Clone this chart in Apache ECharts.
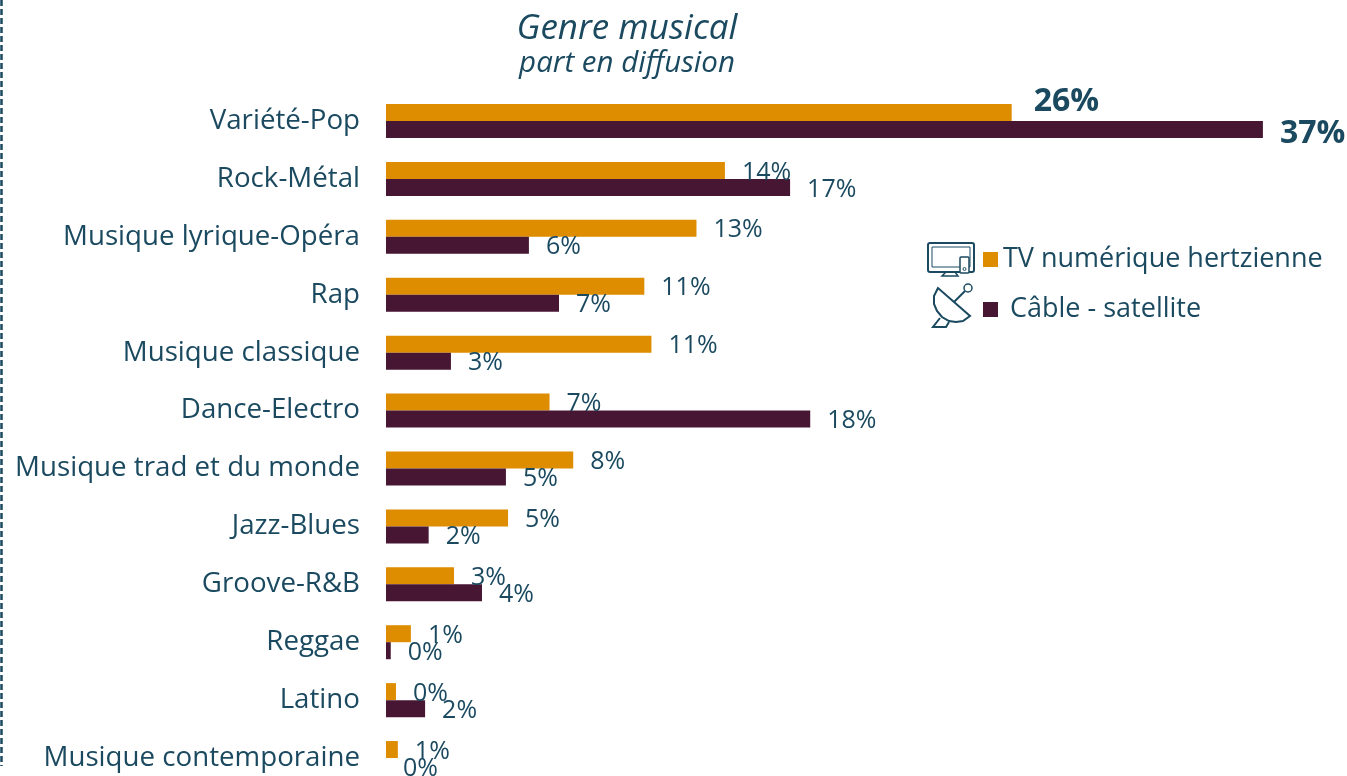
<!DOCTYPE html>
<html><head><meta charset="utf-8">
<style>html,body{margin:0;padding:0;background:#fff;overflow:hidden}#c{width:1347px;height:776px}</style>
<script src="https://cdn.jsdelivr.net/npm/echarts@6/dist/echarts.min.js"></script>
</head><body><div id="c"></div>
<script>
const categories = ['Variété-Pop','Rock-Métal','Musique lyrique-Opéra','Rap','Musique classique','Dance-Electro','Musique trad et du monde','Jazz-Blues','Groove-R&B','Reggae','Latino','Musique contemporaine'];
const tvValues = [26.4,14.3,13.1,10.9,11.2,6.9,7.9,5.15,2.87,1.05,0.42,0.5];
const cableValues = [37,17.05,6.03,7.3,2.74,17.9,5.06,1.8,4.05,0.2,1.65,0];
const tvLabels = ['26%','14%','13%','11%','11%','7%','8%','5%','3%','1%','0%','1%'];
const cableLabels = ['37%','17%','6%','7%','3%','18%','5%','2%','4%','0%','2%','0%'];
const tvName = 'TV numérique hertzienne';
const cableName = ' Câble - satellite';
const titleText = 'Genre musical';
const subtitleText = 'part en diffusion';

const FONT = 'Open Sans';
const INK = '#1B4A60';
const ORANGE = '#DE8C00';
const PLUM = '#471632';

function items(values, labels, boldOffset) {
  return values.map((v, i) => i === 0 ? {
    value: v,
    label: {formatter: labels[i], fontWeight: 'bold', fontSize: 32, offset: boldOffset}
  } : {value: v, label: {formatter: labels[i]}});
}
function barSeries(name, color, values, labels, boldOffset) {
  return {
    name, type: 'bar', barWidth: 17, barGap: 0, itemStyle: {color},
    label: {show: true, position: 'right', distance: 17, offset: [0, 2], color: INK, fontFamily: FONT, fontSize: 25},
    data: items(values, labels, boldOffset)
  };
}
const stroke = {stroke: INK, lineWidth: 2, fill: 'none'};
const chart = echarts.init(document.getElementById('c'), null, {renderer: 'canvas'});
chart.setOption({
  animation: false,
  backgroundColor: '#fff',
  title: {
    text: titleText, subtext: subtitleText, left: 627, top: 12, textAlign: 'center', itemGap: 2, padding: 0,
    textStyle: {fontFamily: FONT, fontStyle: 'italic', fontWeight: 'normal', fontSize: 35, color: INK},
    subtextStyle: {fontFamily: FONT, fontStyle: 'italic', fontSize: 29.5, color: INK}
  },
  legend: {
    orient: 'vertical', left: 983, top: 246, itemWidth: 15, itemHeight: 15, itemGap: 23, icon: 'rect', padding: 0,
    textStyle: {fontFamily: FONT, fontSize: 27, color: INK, padding: [4, 0, 0, 0]},
    data: [tvName, cableName]
  },
  grid: {left: 386, top: 92, width: 948, height: 695, outerBoundsMode: 'none'},
  xAxis: {type: 'value', min: 0, max: 40, show: false},
  yAxis: {
    type: 'category', inverse: true, data: categories,
    axisLine: {show: false}, axisTick: {show: false},
    axisLabel: {margin: 26, color: INK, fontFamily: FONT, fontSize: 27.7, padding: [3, 0, 0, 0]}
  },
  series: [
    barSeries(tvName, ORANGE, tvValues, tvLabels, [5, -11]),
    barSeries(cableName, PLUM, cableValues, cableLabels, [0, 4])
  ],
  graphic: [
    {type: 'line', shape: {x1: 1.5, y1: 0, x2: 1.5, y2: 766}, style: {stroke: INK, lineWidth: 2.5, lineDash: [6, 3]}},
    {type: 'rect', shape: {x: 928, y: 243, width: 46, height: 29, r: 2}, style: stroke},
    {type: 'rect', shape: {x: 932, y: 247, width: 38, height: 20}, style: {stroke: INK, lineWidth: 1, fill: 'none'}},
    {type: 'polygon', shape: {points: [[946,272],[942,276],[958,276],[955,272]]}, style: {stroke: INK, lineWidth: 1.5, fill: 'none'}},
    {type: 'rect', shape: {x: 960, y: 257, width: 9, height: 16, r: 1}, style: {stroke: INK, lineWidth: 1.5, fill: '#fff'}},
    {type: 'circle', shape: {cx: 964.5, cy: 269, r: 1.5}, style: {stroke: INK, lineWidth: 1, fill: 'none'}},
    {type: 'polygon', shape: {points: [[938,288],[934,296],[934,304],[937,311],[942,317],[949,321],[956,322],[963,321],[970,316]]}, style: {stroke: INK, lineWidth: 2, fill: 'none'}},
    {type: 'polyline', shape: {points: [[954,302],[965,291]]}, style: {stroke: INK, lineWidth: 2, fill: 'none'}},
    {type: 'circle', shape: {cx: 968, cy: 288, r: 4}, style: {stroke: INK, lineWidth: 1.5, fill: 'none'}},
    {type: 'polyline', shape: {points: [[940,318],[933,327],[946,327],[949,322]]}, style: {stroke: INK, lineWidth: 2, fill: 'none'}}
  ]
});
</script></body></html>
